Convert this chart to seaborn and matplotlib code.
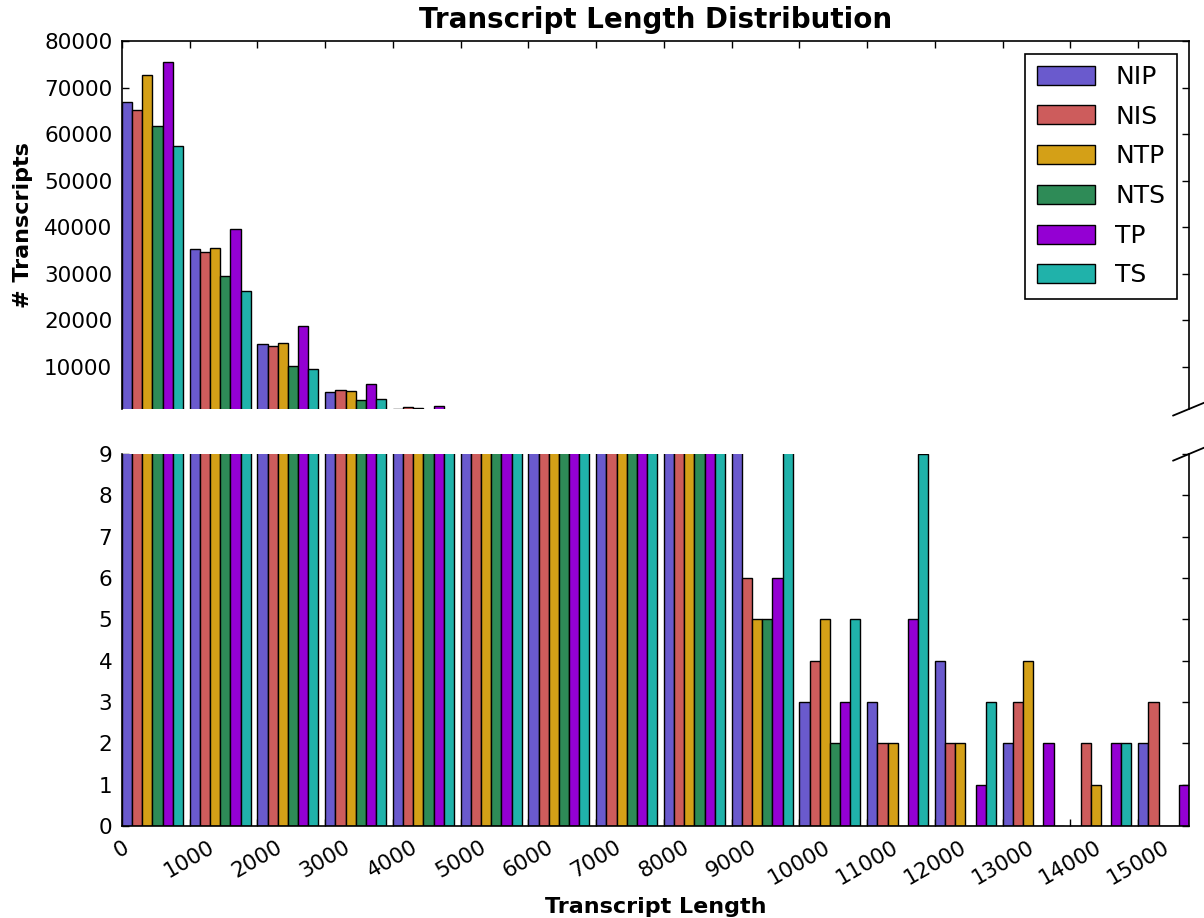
import matplotlib
matplotlib.use("Agg")
import matplotlib.pyplot as plt
from matplotlib.patches import Patch
import pandas as pd
import seaborn as sns

# Transcript length bins (left edge of each 1000-nt bin)
bin_starts = [0, 1000, 2000, 3000, 4000, 5000, 6000, 7000,
              8000, 9000, 10000, 11000, 12000, 13000, 14000, 15000]

samples = ["NIP", "NIS", "NTP", "NTS", "TP", "TS"]

# Number of transcripts per length bin for each sample
nip = [66900, 35300, 14900, 4650, 1100, 420, 160, 70, 30, 11, 3, 3, 4, 2, 0, 2]
nis = [65100, 34800, 14500, 5150, 1500, 440, 170, 65, 25, 6, 4, 2, 2, 3, 2, 3]
ntp = [72800, 35600, 15200, 4950, 1150, 460, 175, 70, 28, 5, 5, 2, 2, 4, 1, 0]
nts = [61800, 29600, 10200, 2900, 800, 300, 110, 45, 18, 5, 2, 0, 0, 0, 0, 0]
tp = [75500, 39700, 18800, 6450, 1600, 600, 220, 90, 35, 6, 3, 5, 1, 2, 2, 1]
ts = [57400, 26400, 9650, 3150, 850, 320, 120, 50, 20, 12, 5, 9, 3, 0, 2, 0]

colors = ["#6A5ACD", "#CD5C5C", "#D4A017", "#2E8B57", "#9400D3", "#20B2AA"]

top_yticks = [10000, 20000, 30000, 40000, 50000, 60000, 70000, 80000]
bottom_yticks = [0, 1, 2, 3, 4, 5, 6, 7, 8, 9]

BIN_WIDTH = 1000
GROUP_FRACTION = 0.9  # share of each bin covered by the group of bars

rows = []
for name, counts in zip(samples, [nip, nis, ntp, nts, tp, ts]):
    for start, count in zip(bin_starts, counts):
        # bars of a bin start at the bin's left edge
        rows.append({"length": start + BIN_WIDTH * GROUP_FRACTION / 2,
                     "sample": name, "count": count})
df = pd.DataFrame(rows)

sns.set_style("white")
plt.rcParams.update({
    "font.family": ["DejaVu Sans"],
    "xtick.direction": "in",
    "ytick.direction": "in",
    "xtick.major.size": 5,
    "ytick.major.size": 5,
    "xtick.major.width": 1.0,
    "ytick.major.width": 1.0,
    "xtick.major.pad": 8,
    "ytick.major.pad": 7,
    "xtick.labelsize": 15.5,
    "ytick.labelsize": 15.5,
    "axes.linewidth": 1.2,
    "axes.edgecolor": "black",
    "axes.labelcolor": "black",
    "axes.titlecolor": "black",
    "xtick.color": "black",
    "ytick.color": "black",
    "xtick.labelcolor": "black",
    "ytick.labelcolor": "black",
    "text.color": "black",
})

W, H = 1204, 918
fig = plt.figure(figsize=(W / 100, H / 100), dpi=100)
left, right = 122, 1189
ax_top = fig.add_axes([left / W, (H - 409) / H, (right - left) / W, (409 - 41) / H])
ax_bot = fig.add_axes([left / W, (H - 826) / H, (right - left) / W, (826 - 454) / H])

for ax in (ax_top, ax_bot):
    sns.barplot(data=df, x="length", y="count", hue="sample", hue_order=samples,
                palette=colors, native_scale=True, width=GROUP_FRACTION,
                saturation=1, edgecolor="black", linewidth=1.0,
                errorbar=None, legend=False, ax=ax)
    ax.set_xlim(0, 15750)
    ax.set_xticks(bin_starts)
    ax.set_xlabel("")
    ax.set_ylabel("")
    ax.tick_params(right=True, left=True)

# Upper panel: the large counts
ax_top.set_ylim(1000, 80000)
ax_top.set_yticks(top_yticks)
ax_top.spines["bottom"].set_visible(False)
ax_top.xaxis.tick_top()
ax_top.tick_params(axis="x", labeltop=False, top=True, bottom=False)

# Lower panel: the small counts of long transcripts
ax_bot.set_ylim(0, 9)
ax_bot.set_yticks(bottom_yticks)
ax_bot.spines["top"].set_visible(False)
ax_bot.xaxis.tick_bottom()
ax_bot.tick_params(axis="x", top=False, bottom=True)
ax_bot.set_xticklabels([str(b) for b in bin_starts], rotation=30, ha="center")

# Break marks on the right-hand spine
dx, dy = 0.015, 0.018
mark = dict(color="black", linewidth=1.3, clip_on=False)
ax_top.plot([1 - dx, 1 + dx], [-dy, dy], transform=ax_top.transAxes, **mark)
ax_bot.plot([1 - dx, 1 + dx], [1 - dy, 1 + dy], transform=ax_bot.transAxes, **mark)

ax_top.set_title("Transcript Length Distribution", fontsize=20,
                 fontweight="bold", pad=9, color="black")
ax_top.set_ylabel("# Transcripts", fontsize=16, fontweight="bold", labelpad=8,
                  color="black")
ax_bot.set_xlabel("Transcript Length", fontsize=16, fontweight="bold", labelpad=6,
                  color="black")

handles = [Patch(facecolor=c, edgecolor="black", linewidth=1.0, label=s)
           for s, c in zip(samples, colors)]
leg = ax_top.legend(handles=handles, loc="upper right", fontsize=18,
                    frameon=True, fancybox=False, edgecolor="black",
                    framealpha=1, borderpad=0.45, labelspacing=0.63,
                    handlelength=2.35, handleheight=0.8, handletextpad=0.8,
                    borderaxespad=0.5)
leg.get_frame().set_linewidth(1.2)

fig.savefig("out.png", dpi=100)
